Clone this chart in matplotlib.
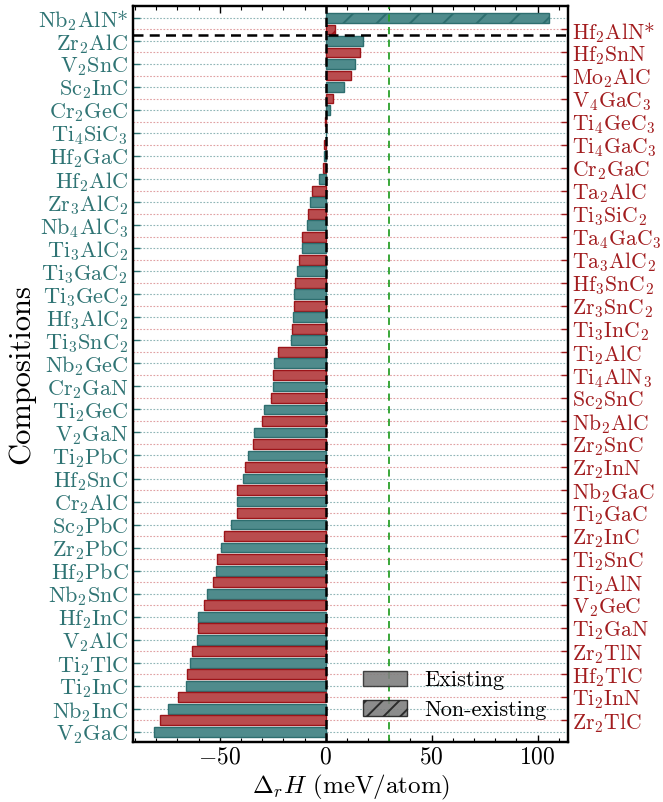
import numpy as np
import matplotlib
matplotlib.use("Agg")
import matplotlib.pyplot as plt
from matplotlib.patches import Patch

plt.rcParams["font.family"] = "serif"
plt.rcParams["font.serif"] = ["cmr10"]
plt.rcParams["mathtext.fontset"] = "cm"
plt.rcParams["axes.formatter.use_mathtext"] = True
plt.rcParams["hatch.linewidth"] = 1.4

# ── data (meV/atom) ─────────────────────────────────────────────
teal_names = [
    "Nb$_2$AlN*", "Zr$_2$AlC", "V$_2$SnC", "Sc$_2$InC", "Cr$_2$GeC",
    "Ti$_4$SiC$_3$", "Hf$_2$GaC", "Hf$_2$AlC", "Zr$_3$AlC$_2$", "Nb$_4$AlC$_3$",
    "Ti$_3$AlC$_2$", "Ti$_3$GaC$_2$", "Ti$_3$GeC$_2$", "Hf$_3$AlC$_2$", "Ti$_3$SnC$_2$",
    "Nb$_2$GeC", "Cr$_2$GaN", "Ti$_2$GeC", "V$_2$GaN", "Ti$_2$PbC",
    "Hf$_2$SnC", "Cr$_2$AlC", "Sc$_2$PbC", "Zr$_2$PbC", "Hf$_2$PbC",
    "Nb$_2$SnC", "Hf$_2$InC", "V$_2$AlC", "Ti$_2$TlC", "Ti$_2$InC",
    "Nb$_2$InC", "V$_2$GaC",
]
teal_vals = [
    105.5, 17.8, 14.0, 8.6, 2.2,
    0.3, -0.6, -3.4, -7.3, -9.0,
    -11.3, -13.7, -14.9, -15.5, -16.5,
    -24.3, -24.8, -29.3, -33.8, -36.6,
    -39.0, -41.7, -44.5, -49.4, -51.9,
    -55.8, -60.1, -60.7, -63.8, -66.0,
    -74.5, -80.8,
]

red_names = [
    "Hf$_2$AlN*", "Hf$_2$SnN", "Mo$_2$AlC", "V$_4$GaC$_3$", "Ti$_4$GeC$_3$",
    "Ti$_4$GaC$_3$", "Cr$_2$GaC", "Ta$_2$AlC", "Ti$_3$SiC$_2$", "Ta$_4$GaC$_3$",
    "Ta$_3$AlC$_2$", "Hf$_3$SnC$_2$", "Zr$_3$SnC$_2$", "Ti$_3$InC$_2$", "Ti$_2$AlC",
    "Ti$_4$AlN$_3$", "Sc$_2$SnC", "Nb$_2$AlC", "Zr$_2$SnC", "Zr$_2$InN",
    "Nb$_2$GaC", "Ti$_2$GaC", "Zr$_2$InC", "Ti$_2$SnC", "Ti$_2$AlN",
    "V$_2$GeC", "Ti$_2$GaN", "Zr$_2$TlN", "Hf$_2$TlC", "Ti$_2$InN",
    "Zr$_2$TlC",
]
red_vals = [
    4.4, 16.4, 11.8, 3.6, -0.3,
    -0.7, -1.2, -6.5, -8.5, -11.0,
    -12.6, -14.3, -14.9, -16.1, -22.3,
    -24.8, -25.6, -30.1, -34.4, -37.9,
    -41.7, -42.0, -48.2, -51.4, -53.3,
    -57.5, -60.1, -63.2, -65.6, -69.9,
    -78.3,
]

threshold = 30.0

teal_face, teal_edge, teal_txt = "#4f8b8c", "#2d6e6f", "#2f7474"
red_face, red_edge, red_txt = "#b94c4e", "#9c1419", "#a21c1e"

# interleave teal / red
names, vals, faces, edges, kinds = [], [], [], [], []
for i in range(len(teal_names)):
    names.append(teal_names[i]); vals.append(teal_vals[i])
    faces.append(teal_face); edges.append(teal_edge); kinds.append("t")
    if i < len(red_names):
        names.append(red_names[i]); vals.append(red_vals[i])
        faces.append(red_face); edges.append(red_edge); kinds.append("r")
ypos = np.arange(len(vals))

fig = plt.figure(figsize=(6.63, 8.02), dpi=100)
ax = fig.add_axes([0.201, 0.075, 0.656, 0.917])

for y, k in zip(ypos, kinds):
    c = "#8fb5b6" if k == "t" else "#e0a0a2"
    ax.axhline(y, color=c, ls=(0, (1.5, 1.5)), lw=0.8, zorder=0)

for y, v, fc, ec, nm in zip(ypos, vals, faces, edges, names):
    ax.barh(y, v, height=0.85, color=fc, edgecolor=ec, lw=1.0, zorder=2,
            hatch="/" if nm.endswith("*") else None)

ax.axvline(0, color="black", ls="--", lw=1.8, zorder=4)
ax.axvline(threshold, color="#2aa02a", ls=(0, (4, 3)), lw=1.3, zorder=4)
ax.axhline(1.5, color="black", ls=(0, (4, 2.5)), lw=1.8, zorder=4)

ax.set_xlim(-90.8, 114.4)
ax.set_ylim(62.87, -1.0)
ax.set_xticks([-50, 0, 50, 100])
ax.set_xticks(np.arange(-90, 115, 10), minor=True)
ax.tick_params(axis="x", which="both", direction="in", top=True, labelsize=17)
ax.tick_params(axis="x", which="major", length=5, width=1.0)
ax.tick_params(axis="x", which="minor", length=3, width=0.8)

ax.set_yticks(ypos[0::2])
ax.set_yticklabels(names[0::2])
ax.tick_params(axis="y", which="both", direction="in", length=5, width=1.0,
               colors=teal_txt, labelsize=16, right=False)
ax.yaxis.set_minor_locator(matplotlib.ticker.NullLocator())

ax2 = ax.twinx()
ax2.set_ylim(ax.get_ylim())
ax2.set_yticks(ypos[1::2])
ax2.set_yticklabels(names[1::2])
ax2.tick_params(axis="y", which="both", direction="in", length=5, width=1.0,
                colors=red_txt, labelsize=15.6, pad=3)
ax2.yaxis.set_minor_locator(matplotlib.ticker.NullLocator())

for a in (ax, ax2):
    for s in a.spines.values():
        s.set_linewidth(1.6)
        s.set_color("black")

ax.set_xlabel(r"$\Delta_r H$ (meV/atom)", fontsize=18, labelpad=3)
ax.set_ylabel("Compositions", fontsize=22)
ax.yaxis.set_label_coords(-0.226, 0.5)

handles = [
    Patch(facecolor="gray", edgecolor="#333333", alpha=0.9, label="Existing"),
    Patch(facecolor="gray", edgecolor="#222222", hatch="//", alpha=0.9,
          label="Non-existing"),
]
ax2.legend(handles=handles, loc="upper left", bbox_to_anchor=(0.528, 0.097),
           frameon=False, fontsize=16, handlelength=2.0, handleheight=0.72,
           handletextpad=0.77, labelspacing=0.45, borderpad=0, borderaxespad=0)

fig.savefig("out.png", dpi=100)
